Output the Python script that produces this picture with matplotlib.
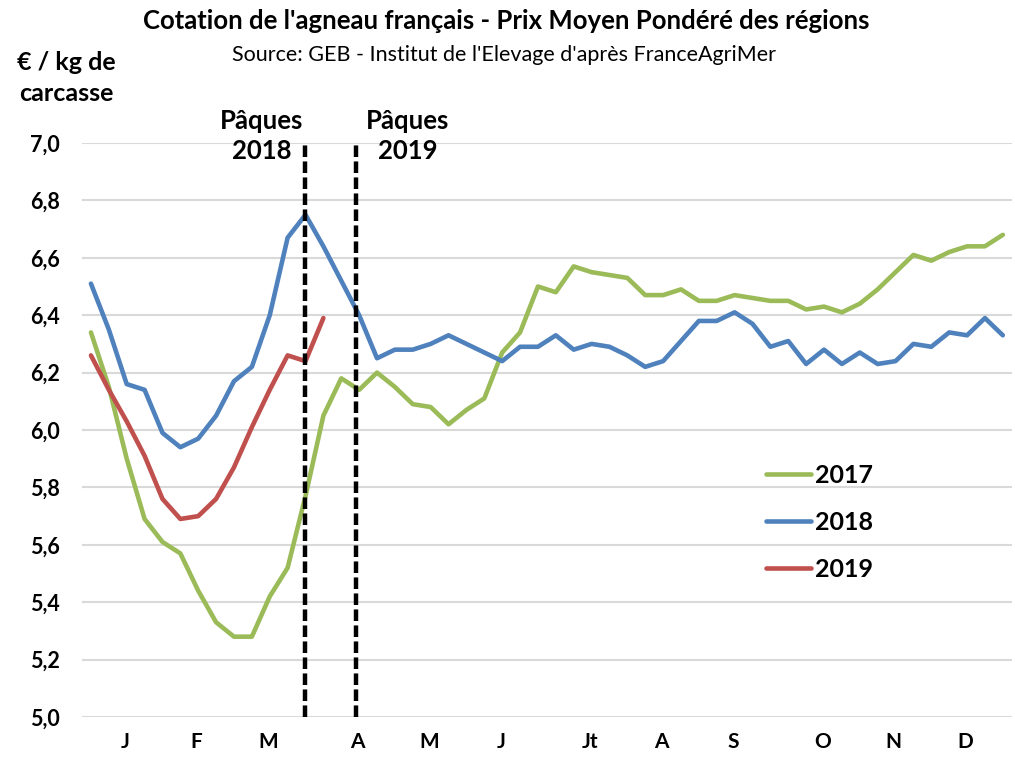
import numpy as np
import matplotlib
matplotlib.use("Agg")
import matplotlib.pyplot as plt

plt.rcParams['font.family'] = ['Lato', 'DejaVu Sans']

y2017 = [6.34, 6.15, 5.90, 5.69, 5.61, 5.57, 5.44, 5.33, 5.28, 5.28,
         5.42, 5.52, 5.77, 6.05, 6.18, 6.14, 6.20, 6.15, 6.09, 6.08,
         6.02, 6.07, 6.11, 6.27, 6.34, 6.50, 6.48, 6.57, 6.55, 6.54,
         6.53, 6.47, 6.47, 6.49, 6.45, 6.45, 6.47, 6.46, 6.45, 6.45,
         6.42, 6.43, 6.41, 6.44, 6.49, 6.55, 6.61, 6.59, 6.62, 6.64,
         6.64, 6.68]
y2018 = [6.51, 6.35, 6.16, 6.14, 5.99, 5.94, 5.97, 6.05, 6.17, 6.22,
         6.40, 6.67, 6.75, 6.64, 6.52, 6.40, 6.25, 6.28, 6.28, 6.30,
         6.33, 6.30, 6.27, 6.24, 6.29, 6.29, 6.33, 6.28, 6.30, 6.29,
         6.26, 6.22, 6.24, 6.31, 6.38, 6.38, 6.41, 6.37, 6.29, 6.31,
         6.23, 6.28, 6.23, 6.27, 6.23, 6.24, 6.30, 6.29, 6.34, 6.33,
         6.39, 6.33]
y2019 = [6.26, 6.14, 6.03, 5.91, 5.76, 5.69, 5.70, 5.76, 5.87, 6.01,
         6.14, 6.26, 6.24, 6.39]

months = ['J', 'F', 'M', 'A', 'M', 'J', 'Jt', 'A', 'S', 'O', 'N', 'D']
month_weeks = [1.9, 5.9, 9.9, 14.9, 18.9, 22.95, 27.9, 31.9, 35.9, 40.9, 44.9, 48.9]
easter_weeks = [11.95, 14.8]
easter_labels = ['Pâques\n2018', 'Pâques\n2019']

fig = plt.figure(figsize=(10.15, 7.59), dpi=100)
ax = fig.add_axes([0.0808, 0.0553, 0.916, 0.7563])

ax.plot(np.arange(len(y2017)), y2017, color='#9BBB59', lw=3.3, label='2017', solid_capstyle='round', zorder=3)
ax.plot(np.arange(len(y2018)), y2018, color='#4F81BD', lw=3.3, label='2018', solid_capstyle='round', zorder=3)
ax.plot(np.arange(len(y2019)), y2019, color='#C0504D', lw=3.3, label='2019', solid_capstyle='round', zorder=3)

for w in easter_weeks:
    ax.plot([w, w], [5.0, 7.0], color='black', lw=3.2, ls=(0, (2.6, 1.0)), zorder=4, clip_on=False)

ax.set_xlim(-0.5, 51.5)
ax.set_ylim(5.0, 7.0)
ax.set_yticks(np.arange(5.0, 7.01, 0.2))
ax.set_yticklabels([f"{v:.1f}".replace('.', ',') for v in np.arange(5.0, 7.01, 0.2)],
                   fontsize=15.5, fontweight='bold')
ax.set_xticks(month_weeks)
ax.set_xticklabels(months, fontsize=15, fontweight='bold')
ax.tick_params(axis='both', length=0)
ax.tick_params(axis='y', pad=16)
ax.tick_params(axis='x', pad=11)
ax.grid(axis='y', color='#D9D9D9', lw=1.5, zorder=0)
for s in ax.spines.values():
    s.set_visible(False)

fig.text(0.499, 0.972, "Cotation de l'agneau français - Prix Moyen Pondéré des régions",
         ha='center', va='center', fontsize=18.5, fontweight='bold')
fig.text(0.497, 0.927, "Source: GEB - Institut de l'Elevage d'après FranceAgriMer",
         ha='center', va='center', fontsize=15.5)
fig.text(0.065, 0.897, "€ / kg de\ncarcasse", ha='center', va='center',
         fontsize=18, fontweight='bold', linespacing=1.45)

for w, lab, xpix in zip(easter_weeks, easter_labels, [262, 408]):
    fig.text(xpix / 1015, 1 - 136 / 759, lab, ha='center', va='center',
             fontsize=18.5, fontweight='bold', linespacing=1.3)

leg = ax.legend(loc='upper left', bbox_to_anchor=(0.712, 0.48), frameon=False,
                prop={'size': 18, 'weight': 'bold'}, handlelength=1.8,
                handletextpad=0.15, labelspacing=0.96)

fig.savefig('out.png', dpi=100)
